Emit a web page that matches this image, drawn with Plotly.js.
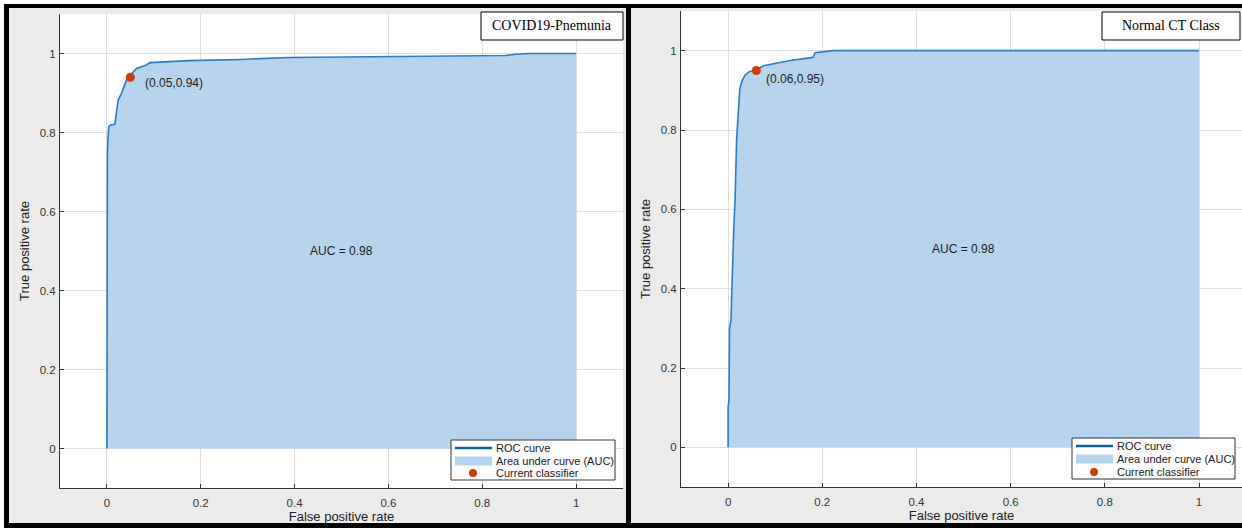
<!DOCTYPE html>
<html>
<head>
<meta charset="utf-8">
<script src="https://cdn.plot.ly/plotly-3.0.1.min.js"></script>
<style>
html,body{margin:0;padding:0;background:#fff;overflow:hidden;}
#chart{width:1242px;height:528px;}
</style>
</head>
<body>
<div id="chart"></div>
<script>
// ---------- data ----------
const panelTitles = ["COVID19-Pnemunia", "Normal CT Class"];
const fprCovid = [0, 0, 0.001, 0.002, 0.004, 0.008, 0.017, 0.02, 0.024, 0.031, 0.038, 0.043, 0.052, 0.063, 0.084, 0.092, 0.177, 0.284, 0.39, 0.5, 0.7, 0.75, 0.85, 0.87, 0.9, 1];
const tprCovid = [0, 0.6, 0.74, 0.78, 0.815, 0.819, 0.821, 0.849, 0.882, 0.899, 0.92, 0.937, 0.948, 0.962, 0.971, 0.977, 0.982, 0.985, 0.99, 0.991, 0.992, 0.994, 0.995, 0.998, 1.0, 1.0];
const fprNormal = [0, 0, 0.002, 0.003, 0.006, 0.009, 0.012, 0.015, 0.018, 0.025, 0.03, 0.036, 0.045, 0.06, 0.075, 0.132, 0.18, 0.185, 0.223, 1];
const tprNormal = [0, 0.1, 0.12, 0.3, 0.32, 0.45, 0.55, 0.63, 0.775, 0.905, 0.925, 0.938, 0.947, 0.952, 0.962, 0.975, 0.983, 0.995, 1.0, 1.0];
const classifierX = [0.05, 0.06];
const classifierY = [0.94, 0.95];
const aucValues = [0.98, 0.98];
const tickVals = [0, 0.2, 0.4, 0.6, 0.8, 1];
const tickText = ["0", "0.2", "0.4", "0.6", "0.8", "1"];
const legendLabels = ["ROC curve", "Area under curve (AUC)", "Current classifier"];
const xTitle = "False positive rate";
const yTitle = "True positive rate";

// ---------- layout helpers ----------
const W = 1242, H = 528;
const px = v => v / W;
const py = v => 1 - v / H;

const curveColor = "#2b7cc6";
const fillColor = "#b6d4ee";
const dotColor = "#cf3a0b";
const legendLineColor = "#0b5cab";

const panels = [
  {x: fprCovid, y: tprCovid, plot: [60, 14, 623, 488], xr: [-0.1, 1.1],
   label: [0.077, 0.925], titleBox: [481, 12, 623, 40],
   legend: {box: [451, 440, 615, 480], rows: [448, 461, 473], sx: [455, 492], dotX: 473, tx: 494}},
  {x: fprNormal, y: tprNormal, plot: [681, 11, 1242, 487], xr: [-0.1, (1242 - 728) / 471],
   label: [0.076, 0.928], titleBox: [1102, 12, 1240, 40],
   legend: {box: [1072, 438, 1235, 479], rows: [446, 459, 472], sx: [1076, 1113], dotX: 1094, tx: 1115}}
];

const traces = [];
const shapes = [];
const annotations = [];
const layout = {
  width: W, height: H,
  margin: {l: 0, r: 0, t: 0, b: 0, pad: 0},
  paper_bgcolor: "#ffffff",
  plot_bgcolor: "rgba(0,0,0,0)",
  showlegend: false,
  font: {family: "Liberation Sans, Arial, sans-serif", color: "#333"}
};

// background: black frame + gray panels + white plot areas
shapes.push({type: "rect", xref: "paper", yref: "paper", x0: px(4), x1: px(1242), y0: py(528), y1: py(4),
  fillcolor: "#000", line: {width: 0}, layer: "below"});
shapes.push({type: "rect", xref: "paper", yref: "paper", x0: px(9), x1: px(626), y0: py(523), y1: py(8),
  fillcolor: "#ebebeb", line: {width: 0}, layer: "below"});
shapes.push({type: "rect", xref: "paper", yref: "paper", x0: px(631), x1: px(1242), y0: py(523), y1: py(8),
  fillcolor: "#ebebeb", line: {width: 0}, layer: "below"});

panels.forEach((p, i) => {
  const n = i === 0 ? "" : String(i + 1);
  const xa = "x" + n, ya = "y" + n;
  const [l, t, r, b] = p.plot;
  const axBase = {
    tickvals: tickVals, ticktext: tickText,
    ticks: "inside", ticklen: 4, tickwidth: 1, tickcolor: "#333",
    showline: true, linecolor: "#333", linewidth: 1,
    showgrid: true, gridcolor: "#dedede", gridwidth: 1,
    zeroline: false, fixedrange: true,
    tickfont: {family: "Liberation Sans, Arial, sans-serif", size: 11.5, color: "#333"}
  };
  layout["xaxis" + n] = Object.assign({}, axBase, {
    domain: [px(l), px(r)], range: p.xr, anchor: ya, ticklabelstandoff: 4,
    title: {text: xTitle, font: {size: 13, color: "#222"}, standoff: 1}
  });
  layout["yaxis" + n] = Object.assign({}, axBase, {
    domain: [py(b), py(t)], range: [-0.1, 1.1], anchor: xa, ticklabelstandoff: 1,
    title: {text: yTitle, font: {size: 13, color: "#222"}, standoff: 7}
  });
  // white plot area
  shapes.push({type: "rect", xref: "paper", yref: "paper", x0: px(l), x1: px(r), y0: py(b), y1: py(t),
    fillcolor: "#ffffff", line: {width: 0}, layer: "below"});

  traces.push({type: "scatter", mode: "lines", x: p.x, y: p.y, xaxis: xa, yaxis: ya,
    fill: "tozeroy", fillcolor: fillColor, line: {color: curveColor, width: 1.6}, hoverinfo: "skip"});
  traces.push({type: "scatter", mode: "markers", x: [classifierX[i]], y: [classifierY[i]], xaxis: xa, yaxis: ya,
    marker: {color: dotColor, size: 9, line: {width: 0}}, hoverinfo: "skip"});

  annotations.push({xref: xa, yref: ya, x: p.label[0], y: p.label[1], xanchor: "left", yanchor: "middle",
    text: "(" + classifierX[i].toFixed(2) + "," + classifierY[i].toFixed(2) + ")", showarrow: false,
    font: {size: 12, color: "#1a1a1a"}});
  annotations.push({xref: xa, yref: ya, x: 0.5, y: 0.5, xanchor: "center", yanchor: "middle",
    text: "AUC = " + aucValues[i].toFixed(2), showarrow: false, font: {size: 12, color: "#1a1a1a"}});

  // title box
  const tb = p.titleBox;
  shapes.push({type: "rect", xref: "paper", yref: "paper", x0: px(tb[0]), x1: px(tb[2]), y0: py(tb[3]), y1: py(tb[1]),
    fillcolor: "#fff", line: {color: "#000", width: 1}, layer: "above"});
  annotations.push({xref: "paper", yref: "paper", x: px((tb[0] + tb[2]) / 2), y: py((tb[1] + tb[3]) / 2),
    xanchor: "center", yanchor: "middle", text: panelTitles[i], showarrow: false,
    font: {family: "Liberation Serif, Times New Roman, serif", size: 14, color: "#000"}});

  // legend
  const lg = p.legend;
  shapes.push({type: "rect", xref: "paper", yref: "paper", x0: px(lg.box[0]), x1: px(lg.box[2]), y0: py(lg.box[3]), y1: py(lg.box[1]),
    fillcolor: "#fff", line: {color: "#333", width: 1}, layer: "above"});
  shapes.push({type: "line", xref: "paper", yref: "paper", x0: px(lg.sx[0]), x1: px(lg.sx[1]), y0: py(lg.rows[0]), y1: py(lg.rows[0]),
    line: {color: legendLineColor, width: 2.5}, layer: "above"});
  shapes.push({type: "rect", xref: "paper", yref: "paper", x0: px(lg.sx[0]), x1: px(lg.sx[1]), y0: py(lg.rows[1] + 4.5), y1: py(lg.rows[1] - 4.5),
    fillcolor: fillColor, line: {width: 0}, layer: "above"});
  shapes.push({type: "circle", xref: "paper", yref: "paper", x0: px(lg.dotX - 4), x1: px(lg.dotX + 4), y0: py(lg.rows[2] + 4), y1: py(lg.rows[2] - 4),
    fillcolor: dotColor, line: {width: 0}, layer: "above"});
  legendLabels.forEach((txt, k) => {
    annotations.push({xref: "paper", yref: "paper", x: px(lg.tx), y: py(lg.rows[k]), xanchor: "left", yanchor: "middle",
      text: txt, showarrow: false, font: {size: 11, color: "#1a1a1a"}});
  });
});

layout.shapes = shapes;
layout.annotations = annotations;

Plotly.newPlot("chart", traces, layout, {displayModeBar: false, staticPlot: true});
</script>
</body>
</html>
